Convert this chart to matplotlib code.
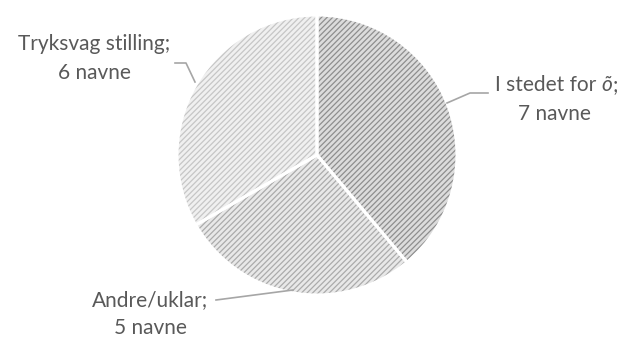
import matplotlib
matplotlib.use("Agg")
import matplotlib.pyplot as plt

plt.rcParams['font.family'] = ['Lato', 'DejaVu Sans']
plt.rcParams['hatch.linewidth'] = 0.9

categories = ["I stedet for ", "Andre/uklar;", "Tryksvag stilling;"]
italic_part = "õ"
values = [7, 5, 6]
count_labels = ["7 navne", "5 navne", "6 navne"]

face_colors = ["#dcdcdc", "#e8e8e8", "#f0f0f0"]
hatch_colors = ["#8e8e8e", "#ababab", "#c6c6c6"]

fig = plt.figure(figsize=(6.19, 3.38), dpi=100)
ax = fig.add_axes([177/619, 43/338, 280/619, 280/338])
ax.axis('off')

wedges, _ = ax.pie(values, startangle=90, counterclock=False, radius=1,
                   colors=face_colors, wedgeprops=dict(linewidth=0))
for w, hc in zip(wedges, hatch_colors):
    w.set_hatch('//////')
    w.set_edgecolor(hc)
    w.set_linewidth(0)
ax.pie(values, startangle=90, counterclock=False, radius=1,
       colors=['none'] * 3, wedgeprops=dict(linewidth=2.2, edgecolor='white'))
ax.set_xlim(-1, 1)
ax.set_ylim(-1, 1)

def px(x, y):
    return ((x - 317) / 140, (155 - y) / 140)

fs = 15
tc = '#595959'
txt = dict(color=tc, fontsize=fs, ha='center', va='center')
lc = '#a6a6a6'

# label 1 (with italic õ)
renderer = fig.canvas.get_renderer()
t1 = ax.text(0, 0, categories[0], color=tc, fontsize=fs, ha='left', va='center')
t2 = ax.text(0, 0, italic_part, color=tc, fontsize=fs, ha='left', va='center', style='italic')
t3 = ax.text(0, 0, ";", color=tc, fontsize=fs, ha='left', va='center')
w1 = t1.get_window_extent(renderer).width
w2 = t2.get_window_extent(renderer).width
w3 = t3.get_window_extent(renderer).width
total = w1 + w2 + w3
cx, cy = 556, 85
x0 = cx - total / 2
t1.set_position(px(x0, cy))
t2.set_position(px(x0 + w1, cy))
t3.set_position(px(x0 + w1 + w2 + 1, cy))
ax.plot(*zip(px(447, 103), px(470, 93), px(488, 93)), color=lc, lw=1.2, clip_on=False)
ax.text(*px(554, 114), count_labels[0], **txt)

# label 2
ax.plot(*zip(px(293, 290), px(216, 300)), color=lc, lw=1.2, clip_on=False)
ax.text(*px(150, 300), categories[1], **txt)
ax.text(*px(150, 328), count_labels[1], **txt)

# label 3
ax.plot(*zip(px(195, 82), px(186, 63), px(175, 63)), color=lc, lw=1.2, clip_on=False)
ax.text(*px(94, 44), categories[2], **txt)
ax.text(*px(94, 73), count_labels[2], **txt)

fig.savefig("out.png", dpi=100)
